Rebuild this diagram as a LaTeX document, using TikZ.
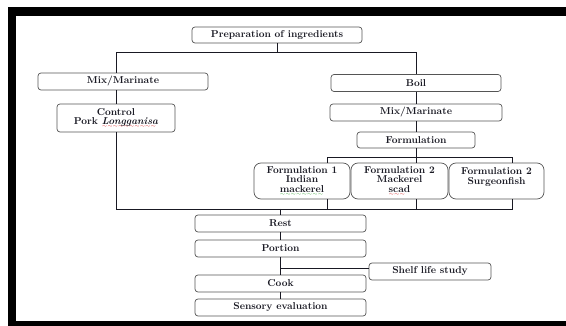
\documentclass[tikz,border=0pt]{standalone}
\usepackage{tikz}
\usetikzlibrary{positioning, calc}
\definecolor{boxgray}{RGB}{85, 85, 85}
\definecolor{inkdark}{RGB}{25, 25, 35}
\definecolor{spellred}{RGB}{220, 40, 40}
\definecolor{spellgreen}{RGB}{60, 170, 60}
\newcommand{\spellmark}[2]{\setbox0\hbox{#2}\leavevmode\rlap{\raisebox{-3pt}{\hbox to \wd0{\color{#1}\leaders\hbox{\fontsize{5}{5}\selectfont$\sim$}\hfill}}}\box0}

\begin{document}
\begin{tikzpicture}[x=1pt, y=-1pt,
    stage/.style={draw=boxgray, line width=0.7pt, rounded corners=3pt, fill=white,
      inner sep=0pt, minimum height=17pt, align=center, text=inkdark,
      font=\fontsize{10}{9.6}\selectfont\bfseries},
    recipe/.style={stage, rounded corners=7pt, minimum width=96pt, minimum height=36pt},
    link/.style={draw=inkdark, line width=0.6pt}]
  \useasboundingbox (0,0) rectangle (566,326);

  % frame
  \fill[black] (8,7) rectangle (566,16);
  \fill[black] (8,7) rectangle (16,326);
  \fill[black] (8,321) rectangle (566,326);

  % top
  \node[stage, minimum width=170pt, minimum height=16pt] (prep) at (277,35) {Preparation of ingredients};
  \node[stage, minimum width=170pt] (mixL) at (123,81.5) {Mix/Marinate};
  \node[stage, minimum width=170pt] (boil) at (416,83) {Boil};

  % left branch
  \node[stage, minimum width=118pt, minimum height=28pt] (control) at (116,118) {Control\\Pork \spellmark{spellred}{\itshape Longganisa}};

  % right branch
  \node[stage, minimum width=172pt] (mixR) at (416,112.5) {Mix/Marinate};
  \node[stage, minimum width=118pt, minimum height=16pt] (form) at (416,140) {Formulation};
  \node[recipe] (f1) at (302,181) {Formulation 1\\Indian\\\spellmark{spellgreen}{mackerel}};
  \node[recipe, minimum width=97pt] (f2) at (399.5,181) {Formulation 2\\Mackerel\\\spellmark{spellred}{scad}};
  \node[recipe, minimum width=95pt] (f3) at (496.5,181) {Formulation 2\\Surgeonfish\\\phantom{x}};

  % main column
  \node[stage, minimum width=171pt] (rest) at (280.5,223.5) {Rest};
  \node[stage, minimum width=171pt] (portion) at (280.5,248.5) {Portion};
  \node[stage, minimum width=171pt] (cook) at (280.5,283.5) {Cook};
  \node[stage, minimum width=171pt] (sensory) at (280.5,307.5) {Sensory evaluation};
  \node[stage, minimum width=122pt] (shelf) at (430,271.5) {Shelf life study};

  % connectors
  \draw[link] (prep.south) -- ++(0,9) coordinate (splitA);
  \draw[link] (control |- mixL.north) |- (splitA) -| (boil.north);
  \draw[link] (control |- mixL.south) -- (control.north);
  \draw[link] (boil) -- (mixR);
  \draw[link] (mixR) -- (form);
  \draw[link] (form.south) -- ++(0,9) coordinate (splitB);
  \draw[link] ([xshift=25pt]f1.north) |- (splitB) -| ([xshift=16pt]f3.north);
  \draw[link] (splitB) -- (splitB |- f2.north);
  \coordinate (joinC) at (280.5,209);
  \draw[link] (control.south) |- ([xshift=16pt]f3.south |- joinC) -- ([xshift=16pt]f3.south);
  \draw[link] ([xshift=25pt]f1.south) -- ([xshift=25pt]f1.south |- joinC);
  \draw[link] (splitB |- f2.south) -- (splitB |- joinC);
  \draw[link] (joinC) -- (rest.north);
  \draw[link] (rest) -- (portion);
  \draw[link] (portion) -- (cook);
  \draw[link] (cook) -- (sensory);
  \coordinate (brk) at (280.5,268);
  \draw[link] (brk) -- (brk -| shelf.west);
\end{tikzpicture}
\end{document}
